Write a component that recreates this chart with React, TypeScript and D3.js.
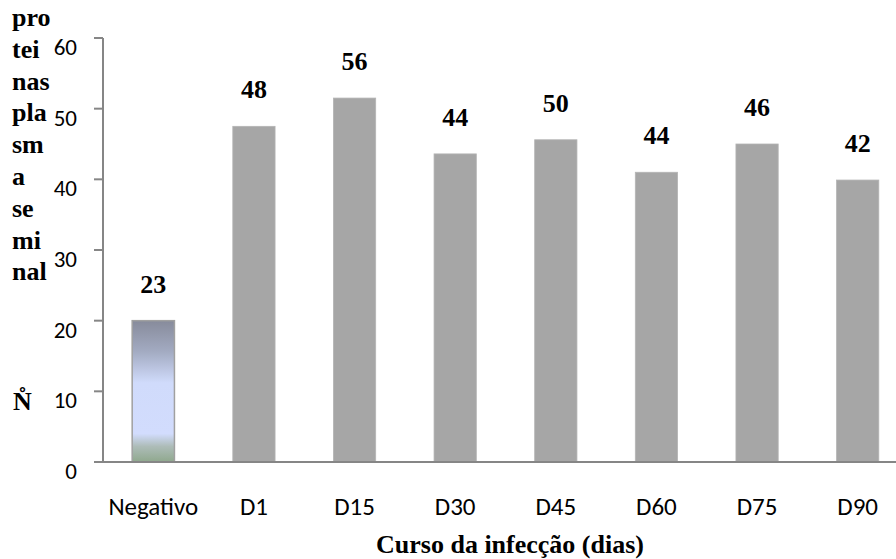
import React from "react";
import * as d3 from "d3";

// Number of seminal plasma proteins over the course of infection
const categories = ["Negativo", "D1", "D15", "D30", "D45", "D60", "D75", "D90"];
const barValues = [20, 47.5, 51.5, 43.6, 45.6, 41, 45, 39.9];
const countLabels = ["23", "48", "56", "44", "50", "44", "46", "42"];
const yTicks = [0, 10, 20, 30, 40, 50, 60];
const yTitleChunks = ["pro", "tei", "nas", "pla", "sm", "a", "se", "mi", "nal"];
const xTitle = "Curso da infecção (dias)";

const W = 896;
const H = 559;
const plot = { left: 103, right: 908, top: 38, bottom: 462 };

const serif = "'Liberation Serif', 'Times New Roman', serif";
const sans = "Carlito, Calibri, Lato, sans-serif";
const axisColor = "#868686";
const barColor = "#a6a6a6";

export default function App() {
  const x = d3
    .scaleBand<string>()
    .domain(categories)
    .range([plot.left, plot.right])
    .paddingInner(0.58)
    .paddingOuter(0.29);
  const y = d3.scaleLinear().domain([0, 60]).range([plot.bottom, plot.top]);

  return (
    <svg
      width={W}
      height={H}
      viewBox={`0 0 ${W} ${H}`}
      style={{ position: "absolute", left: 0, top: 0, background: "#fff" }}
    >
      <defs>
        <linearGradient id="negFill" x1="0" y1="0" x2="0" y2="1">
          <stop offset="0%" stopColor="#878b9b" />
          <stop offset="22%" stopColor="#a3abc2" />
          <stop offset="44%" stopColor="#d0dbfb" />
          <stop offset="80%" stopColor="#d2dcfd" />
          <stop offset="89%" stopColor="#adbcb8" />
          <stop offset="100%" stopColor="#8fa88d" />
        </linearGradient>
      </defs>

      {/* bars */}
      {categories.map((c, i) => {
        const x0 = x(c)!;
        const top = y(barValues[i]);
        const first = i === 0;
        return (
          <rect
            key={c}
            x={x0}
            y={top}
            width={x.bandwidth()}
            height={y(0) - top}
            fill={first ? "url(#negFill)" : barColor}
            stroke={first ? "#a0a0a0" : "#b4b4b4"}
            strokeWidth={first ? 1.5 : 0.8}
          />
        );
      })}

      {/* count labels above bars */}
      {categories.map((c, i) => (
        <text
          key={"l" + c}
          x={x(c)! + x.bandwidth() / 2}
          y={y(barValues[i]) - 28}
          textAnchor="middle"
          fontFamily={serif}
          fontWeight="bold"
          fontSize={26}
          fill="#000"
        >
          {countLabels[i]}
        </text>
      ))}

      {/* y axis */}
      <line x1={plot.left} x2={plot.left} y1={y(60)} y2={y(0)} stroke={axisColor} strokeWidth={2} />
      {yTicks.map((t) => (
        <g key={"t" + t}>
          <line x1={plot.left - 9} x2={plot.left} y1={y(t)} y2={y(t)} stroke={axisColor} strokeWidth={2} />
          <text
            x={77}
            y={y(t) + 17}
            textAnchor="end"
            fontFamily={sans}
            fontSize={23}
            fill="#000"
          >
            {t}
          </text>
        </g>
      ))}

      {/* x axis */}
      <line x1={plot.left - 9} x2={W} y1={y(0)} y2={y(0)} stroke={axisColor} strokeWidth={2} />
      {categories.map((c) => (
        <text
          key={"x" + c}
          x={x(c)! + x.bandwidth() / 2}
          y={515}
          textAnchor="middle"
          fontFamily={sans}
          fontSize={25}
          fill="#000"
        >
          {c}
        </text>
      ))}

      {/* axis titles */}
      <text x={510} y={553} textAnchor="middle" fontFamily={serif} fontWeight="bold" fontSize={26} fill="#000">
        {xTitle}
      </text>
      {yTitleChunks.map((s, i) => (
        <text
          key={"yt" + i}
          x={12}
          y={26 + i * 31.8}
          fontFamily={serif}
          fontWeight="bold"
          fontSize={26}
          fill="#000"
        >
          {s}
        </text>
      ))}
      <text x={13} y={410} fontFamily={serif} fontWeight="bold" fontSize={26} fill="#000">
        {"N\u030A"}
      </text>
    </svg>
  );
}
